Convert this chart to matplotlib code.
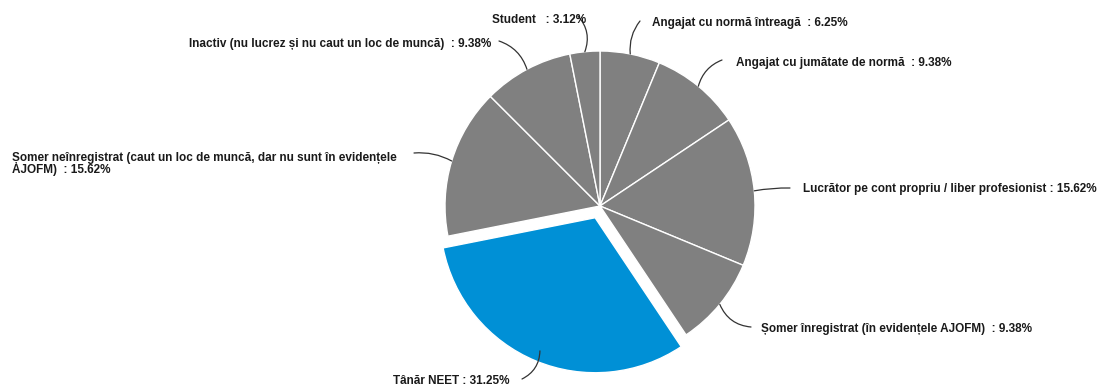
import numpy as np
import matplotlib.pyplot as plt

categories = [
    "Angajat cu normă întreagă ",
    "Angajat cu jumătate de normă ",
    "Lucrător pe cont propriu / liber profesionist",
    "Șomer înregistrat (în evidențele AJOFM) ",
    "Tânăr NEET",
    "Șomer neînregistrat (caut un loc de muncă, dar nu sunt în evidențele\nAJOFM) ",
    "Inactiv (nu lucrez și nu caut un loc de muncă) ",
    "Student  ",
]
shares = [6.25, 9.38, 15.62, 9.38, 31.25, 15.62, 9.38, 3.12]
colors = ["#808080"] * 4 + ["#0090d6"] + ["#808080"] * 3
pulled = [0, 0, 0, 0, 1, 0, 0, 0]

W, H = 1103, 387
fig = plt.figure(figsize=(W / 100, H / 100), dpi=100)
ax = fig.add_axes([0, 0, 1, 1])

cx, cy, r = 600, H - 206, 155
# explode is in data units here, so scale by the radius
wedges, _ = ax.pie(shares, colors=colors, explode=[p * 0.082 * r for p in pulled],
                   startangle=90, counterclock=False, center=(cx, cy), radius=r,
                   wedgeprops=dict(edgecolor="white", linewidth=1.0),
                   frame=True)
ax.set_xlim(0, W)
ax.set_ylim(0, H)
ax.set_aspect("equal")
ax.axis("off")

# text x, text y, align, leader start, curvature, reach into wedge
layout = [
    (652, 23, "left", (640, 21), 0.2, 1.0),
    (736, 63, "left", (722, 60), 0.25, 1.0),
    (803, 189, "left", (790, 188), 0.05, 1.0),
    (761, 329, "left", (751, 327), -0.3, 1.0),
    (393, 381, "left", (522, 379), 0.3, 0.93),
    (12, 164, "left", (414, 153), -0.15, 1.0),
    (491, 44, "right", (499, 41), -0.25, 1.0),
    (586, 20, "right", (578, 16), -0.3, 1.0),
]

for w, name, v, (tx, ty, ha, ls, rad, f) in zip(wedges, categories, shares, layout):
    ang = np.deg2rad((w.theta1 + w.theta2) / 2)
    wx, wy = w.center
    ex = wx + f * w.r * np.cos(ang)
    ey = wy + f * w.r * np.sin(ang)
    ax.annotate("", xy=(ex, ey), xytext=(ls[0], H - ls[1]),
                arrowprops=dict(arrowstyle="-", color="#333333", lw=0.9,
                                shrinkA=0, shrinkB=0,
                                connectionstyle=f"arc3,rad={rad}"))
    ax.text(tx, H - ty, f"{name} : {v:.2f}%", ha=ha, va="center",
            fontsize=8.5, fontweight="bold", family="Liberation Sans",
            color="#1a1a1a", linespacing=1.08)

fig.savefig("out.png", dpi=100)
